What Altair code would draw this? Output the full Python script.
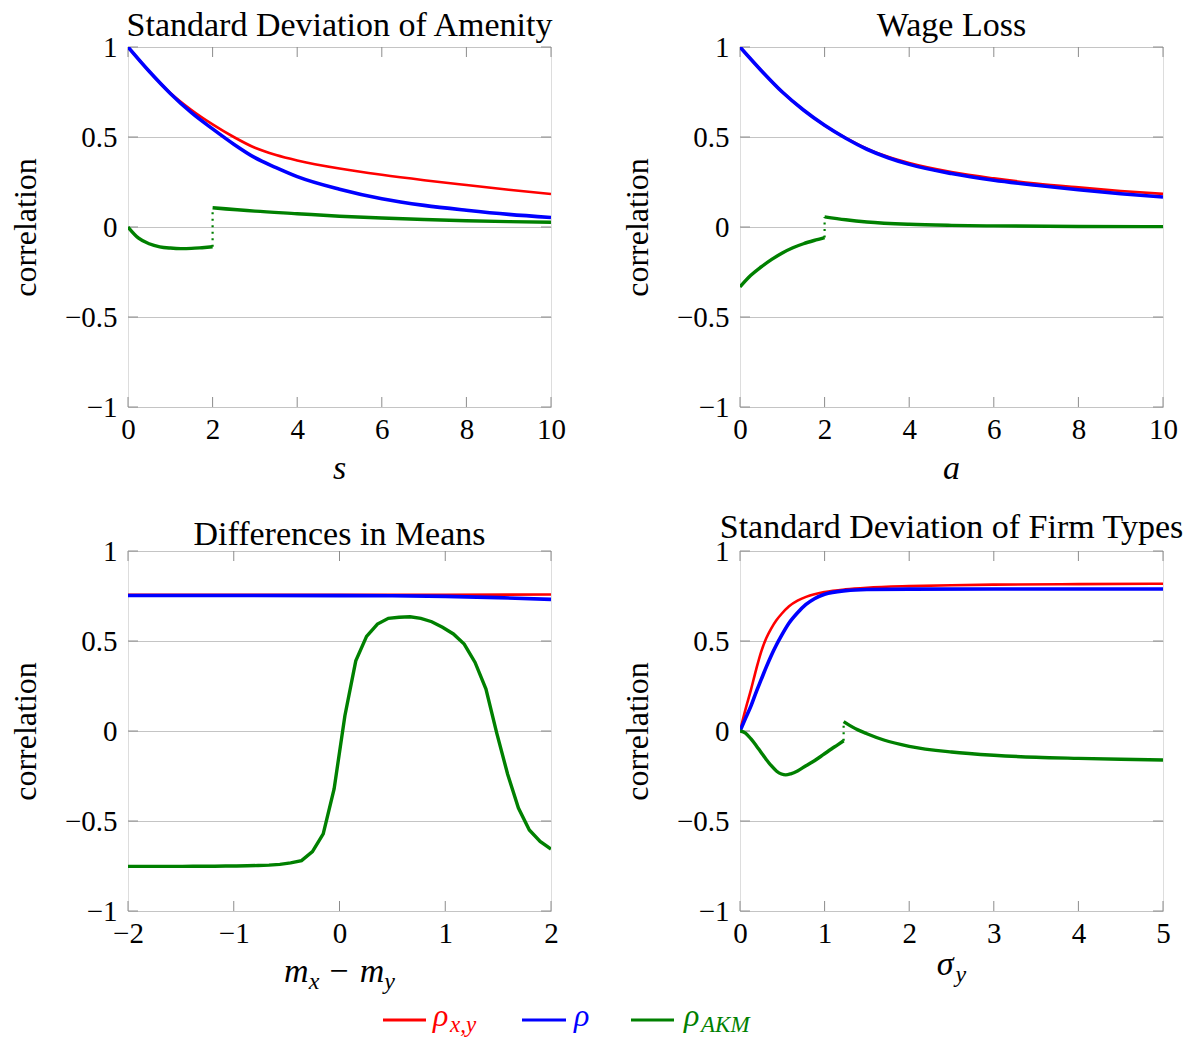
import altair as alt
import pandas as pd

RED, BLUE, GREEN = "#ff0000", "#0000ff", "#008000"
SERIF = "Liberation Serif"
W, H = 423, 360

titles = ["Standard Deviation of Amenity", "Wage Loss", "Differences in Means",
          "Standard Deviation of Firm Types"]
y_ticks = [-1, -0.5, 0, 0.5, 1]
y_title = "correlation"

# ---- Panel 1: Standard Deviation of Amenity (x = s)
amen_x = [0, 0.5, 1, 1.5, 2, 2.5, 3, 3.5, 4, 5, 6, 7, 8, 9, 10]
amen_rxy = [1.0, 0.865, 0.745, 0.65, 0.57, 0.5, 0.44, 0.4, 0.37, 0.325, 0.29, 0.26, 0.233, 0.207, 0.183]
amen_rho = [1.0, 0.865, 0.742, 0.635, 0.545, 0.46, 0.385, 0.33, 0.28, 0.21, 0.157, 0.12, 0.093, 0.07, 0.053]
amen_akm_lo_x = [0, 0.25, 0.5, 0.75, 1, 1.25, 1.5, 1.75, 2]
amen_akm_lo = [0, -0.062, -0.093, -0.11, -0.117, -0.12, -0.119, -0.115, -0.11]
amen_akm_hi_x = [2, 3, 4, 5, 6, 7, 8, 9, 10]
amen_akm_hi = [0.107, 0.088, 0.074, 0.06, 0.05, 0.042, 0.035, 0.03, 0.026]
amen_ticks = [0, 2, 4, 6, 8, 10]

# ---- Panel 2: Wage Loss (x = a)
wage_x = [0, 0.5, 1, 1.5, 2, 2.5, 3, 3.5, 4, 5, 6, 7, 8, 9, 10]
wage_rxy = [1.0, 0.87, 0.75, 0.65, 0.565, 0.495, 0.435, 0.39, 0.355, 0.305, 0.27, 0.242, 0.22, 0.2, 0.184]
wage_rho = [1.0, 0.87, 0.75, 0.65, 0.565, 0.493, 0.432, 0.385, 0.348, 0.297, 0.26, 0.232, 0.207, 0.185, 0.167]
wage_akm_lo_x = [0, 0.25, 0.5, 0.75, 1, 1.25, 1.5, 1.75, 2]
wage_akm_lo = [-0.333, -0.27, -0.222, -0.18, -0.144, -0.115, -0.093, -0.075, -0.059]
wage_akm_hi_x = [2, 2.5, 3, 4, 5, 6, 8, 10]
wage_akm_hi = [0.056, 0.04, 0.028, 0.015, 0.009, 0.006, 0.003, 0.002]
wage_ticks = [0, 2, 4, 6, 8, 10]

# ---- Panel 3: Differences in Means (x = m_x - m_y)
mean_red_x = [-2, -1, 0, 1, 2]
mean_rxy = [0.756, 0.756, 0.757, 0.757, 0.758]
mean_blue_x = [-2, -1, 0, 0.5, 1, 1.5, 2]
mean_rho = [0.753, 0.753, 0.752, 0.751, 0.748, 0.741, 0.731]
mean_akm_x = [-2.0, -1.897, -1.795, -1.692, -1.590, -1.487, -1.385, -1.282, -1.179, -1.077,
              -0.974, -0.872, -0.769, -0.667, -0.564, -0.462, -0.359, -0.256, -0.154, -0.051,
              0.051, 0.154, 0.256, 0.359, 0.462, 0.564, 0.667, 0.769, 0.872, 0.974,
              1.077, 1.179, 1.282, 1.385, 1.487, 1.590, 1.692, 1.795, 1.897, 2.0]
mean_akm = [-0.752, -0.752, -0.752, -0.752, -0.752, -0.752, -0.751, -0.751, -0.751, -0.750,
            -0.750, -0.749, -0.747, -0.745, -0.741, -0.733, -0.720, -0.670, -0.572, -0.322,
            0.085, 0.390, 0.526, 0.594, 0.626, 0.632, 0.635, 0.626, 0.607, 0.576,
            0.539, 0.483, 0.381, 0.233, -0.012, -0.240, -0.428, -0.550, -0.613, -0.656]
mean_ticks = [-2, -1, 0, 1, 2]

# ---- Panel 4: Standard Deviation of Firm Types (x = sigma_y)
firm_red_x = [0, 0.065, 0.13, 0.19, 0.25, 0.31, 0.37, 0.43, 0.49, 0.58, 0.68, 0.78, 0.88, 1.0,
              1.25, 1.5, 2, 2.5, 3, 4, 5]
firm_rxy = [0, 0.12, 0.23, 0.34, 0.44, 0.515, 0.57, 0.615, 0.65, 0.693, 0.724, 0.745, 0.76, 0.772,
            0.787, 0.796, 0.805, 0.81, 0.813, 0.816, 0.818]
firm_blue_x = [0, 0.065, 0.13, 0.19, 0.25, 0.31, 0.37, 0.43, 0.49, 0.58, 0.68, 0.78, 0.88, 1.0,
               1.25, 1.5, 2, 3, 4, 5]
firm_rho = [0, 0.07, 0.14, 0.215, 0.285, 0.355, 0.42, 0.478, 0.53, 0.6, 0.657, 0.703, 0.735, 0.76,
            0.78, 0.786, 0.788, 0.789, 0.789, 0.789]
firm_akm_lo_x = [0, 0.065, 0.13, 0.19, 0.25, 0.31, 0.37, 0.43, 0.49, 0.54, 0.6, 0.68, 0.78, 0.88,
                 0.98, 1.08, 1.15, 1.225]
firm_akm_lo = [0, -0.012, -0.044, -0.08, -0.119, -0.158, -0.193, -0.222, -0.239, -0.244, -0.238,
               -0.222, -0.193, -0.165, -0.133, -0.1, -0.078, -0.054]
firm_akm_hi_x = [1.225, 1.3, 1.4, 1.5, 1.7, 2.0, 2.5, 3, 3.5, 4, 4.5, 5]
firm_akm_hi = [0.052, 0.03, 0.005, -0.015, -0.05, -0.085, -0.117, -0.135, -0.146, -0.152, -0.157, -0.161]
firm_ticks = [0, 1, 2, 3, 4, 5]

# ---- legend
legend_main = ["ρ", "ρ", "ρ"]
legend_sub = ["x,y", "", "AKM"]
legend_colors = [RED, BLUE, GREEN]

# rough glyph widths (em) of Liberation Serif Italic, for placing pieces of math text
EM = {"m": 0.722, "x": 0.444, "y": 0.444, "−": 0.6, "σ": 0.55, "ρ": 0.5, " ": 0.25}


def text_layer(t, px, py, fs, color="black", align="left", italic=True):
    return alt.Chart(pd.DataFrame({"t": [t]})).mark_text(
        font=SERIF, fontStyle="italic" if italic else "normal", fontSize=fs,
        align=align, baseline="alphabetic", color=color, x=px, y=py
    ).encode(text="t:N")


def math_label(parts, center, base, main_fs=34, sub_fs=24, gap=10):
    # parts: list of (text, is_sub)
    widths = []
    for t, is_sub in parts:
        fs = sub_fs if is_sub else main_fs
        w = sum(EM.get(c, 0.5) for c in t) * fs
        if t == "−":
            w += 2 * gap
        widths.append(w)
    total = sum(widths)
    x = center - total / 2
    layers = []
    for (t, is_sub), w in zip(parts, widths):
        fs = sub_fs if is_sub else main_fs
        px = x + (gap if t == "−" else 0)
        layers.append(text_layer(t, px, base + (7 if is_sub else 0), fs, italic=(t != "−")))
        x += w
    return layers


def panel(title, t_off, xdom, xticks, lines, jumps, interp, extra):
    xs = alt.Scale(domain=xdom, nice=False, zero=False)
    ys = alt.Scale(domain=[-1, 1], nice=False, zero=False)
    xax = alt.Axis(values=xticks, grid=False, ticks=False, domain=False, title=None,
                   labelFont=SERIF, labelFontSize=29, labelPadding=8, labelFlush=False,
                   labelOverlap=False, format="~r", labelColor="black")
    yax = alt.Axis(values=y_ticks, grid=True, gridColor="#c4c4c4", gridWidth=1, ticks=False,
                   domain=False, title=y_title, titleFont=SERIF, titleFontSize=32,
                   titleFontWeight="normal", titleColor="black", titlePadding=22,
                   labelFont=SERIF, labelFontSize=29, labelPadding=11, labelFlush=False,
                   labelOverlap=False, format="~r", labelColor="black")

    def X(f):
        return alt.X(f, type="quantitative", scale=xs, axis=xax)

    def Y(f):
        return alt.Y(f, type="quantitative", scale=ys, axis=yax)

    layers = []
    # inner tick marks (pgfplots style)
    xt = pd.DataFrame({"x": xticks})
    yt = pd.DataFrame({"y": y_ticks})
    tick_style = dict(color="#8c8c8c", strokeWidth=1)
    layers.append(alt.Chart(xt).mark_rule(**tick_style).encode(x=X("x"), y=alt.value(0), y2=alt.value(10)))
    layers.append(alt.Chart(xt).mark_rule(**tick_style).encode(x=X("x"), y=alt.value(H - 10), y2=alt.value(H)))
    layers.append(alt.Chart(yt).mark_rule(**tick_style).encode(y=Y("y"), x=alt.value(0), x2=alt.value(10)))
    layers.append(alt.Chart(yt).mark_rule(**tick_style).encode(y=Y("y"), x=alt.value(W - 10), x2=alt.value(W)))

    for xv, yv, color, sw in lines:
        df = pd.DataFrame({"x": xv, "y": yv})
        layers.append(alt.Chart(df).mark_line(color=color, strokeWidth=sw, interpolate=interp,
                                              clip=True, strokeCap="butt")
                      .encode(x=X("x"), y=Y("y")))
    for jx, lo, hi in jumps:
        df = pd.DataFrame({"x": [jx], "y": [lo], "y2": [hi]})
        layers.append(alt.Chart(df).mark_rule(color=GREEN, strokeWidth=2.2, strokeDash=[2, 4.5])
                      .encode(x=X("x"), y=Y("y"), y2="y2:Q"))
    # panel title drawn as text above the frame
    layers.append(text_layer(title, W / 2, -t_off, 34, align="center", italic=False))
    layers.extend(extra)
    return alt.layer(*layers).properties(width=W, height=H)


p1 = panel(titles[0], 11, [0, 10], amen_ticks,
           [(amen_x, amen_rxy, RED, 2.6), (amen_x, amen_rho, BLUE, 3.6),
            (amen_akm_lo_x, amen_akm_lo, GREEN, 3.4), (amen_akm_hi_x, amen_akm_hi, GREEN, 3.4)],
           [(amen_akm_lo_x[-1], amen_akm_lo[-1], amen_akm_hi[0])], "monotone",
           [text_layer("s", W / 2, H + 72, 34, align="center")])

p2 = panel(titles[1], 11, [0, 10], wage_ticks,
           [(wage_x, wage_rxy, RED, 2.6), (wage_x, wage_rho, BLUE, 3.6),
            (wage_akm_lo_x, wage_akm_lo, GREEN, 3.4), (wage_akm_hi_x, wage_akm_hi, GREEN, 3.4)],
           [(wage_akm_lo_x[-1], wage_akm_lo[-1], wage_akm_hi[0])], "monotone",
           [text_layer("a", W / 2, H + 72, 34, align="center")])

# legend drawn under the bottom-left panel
leg_x = [(255, 298, 305), (394, 438, 446), (503, 546, 556)]
leg_layers = []
for (x0, x1, xt_), main, sub, col in zip(leg_x, legend_main, legend_sub, legend_colors):
    leg_layers.append(alt.Chart(pd.DataFrame({"c": [col]})).mark_rule(color=col, strokeWidth=3)
                      .encode(x=alt.value(x0), x2=alt.value(x1), y=alt.value(H + 109)))
    leg_layers.append(text_layer(main, xt_, H + 115, 32, color=col))
    if sub:
        leg_layers.append(text_layer(sub, xt_ + 17, H + 121, 23, color=col))

p3 = panel(titles[2], 6, [-2, 2], mean_ticks,
           [(mean_red_x, mean_rxy, RED, 2.6), (mean_blue_x, mean_rho, BLUE, 3.6),
            (mean_akm_x, mean_akm, GREEN, 3.4)],
           [], "linear",
           math_label([("m", False), ("x", True), ("−", False), ("m", False), ("y", True)],
                      W / 2, H + 71) + leg_layers)

p4 = panel(titles[3], 13, [0, 5], firm_ticks,
           [(firm_red_x, firm_rxy, RED, 2.6), (firm_blue_x, firm_rho, BLUE, 3.6),
            (firm_akm_lo_x, firm_akm_lo, GREEN, 3.4), (firm_akm_hi_x, firm_akm_hi, GREEN, 3.4)],
           [(firm_akm_lo_x[-1], firm_akm_lo[-1], firm_akm_hi[0])], "monotone",
           math_label([("σ", False), ("y", True)], W / 2, H + 64))

chart = alt.concat(p1, p2, p3, p4, columns=2, spacing={"row": 144, "column": 189},
                   bounds="flush", padding=0).configure_view(
    stroke="black", strokeWidth=1.2).configure(background="white")

chart.save("out.html", embed_options={"renderer": "svg", "actions": False})
